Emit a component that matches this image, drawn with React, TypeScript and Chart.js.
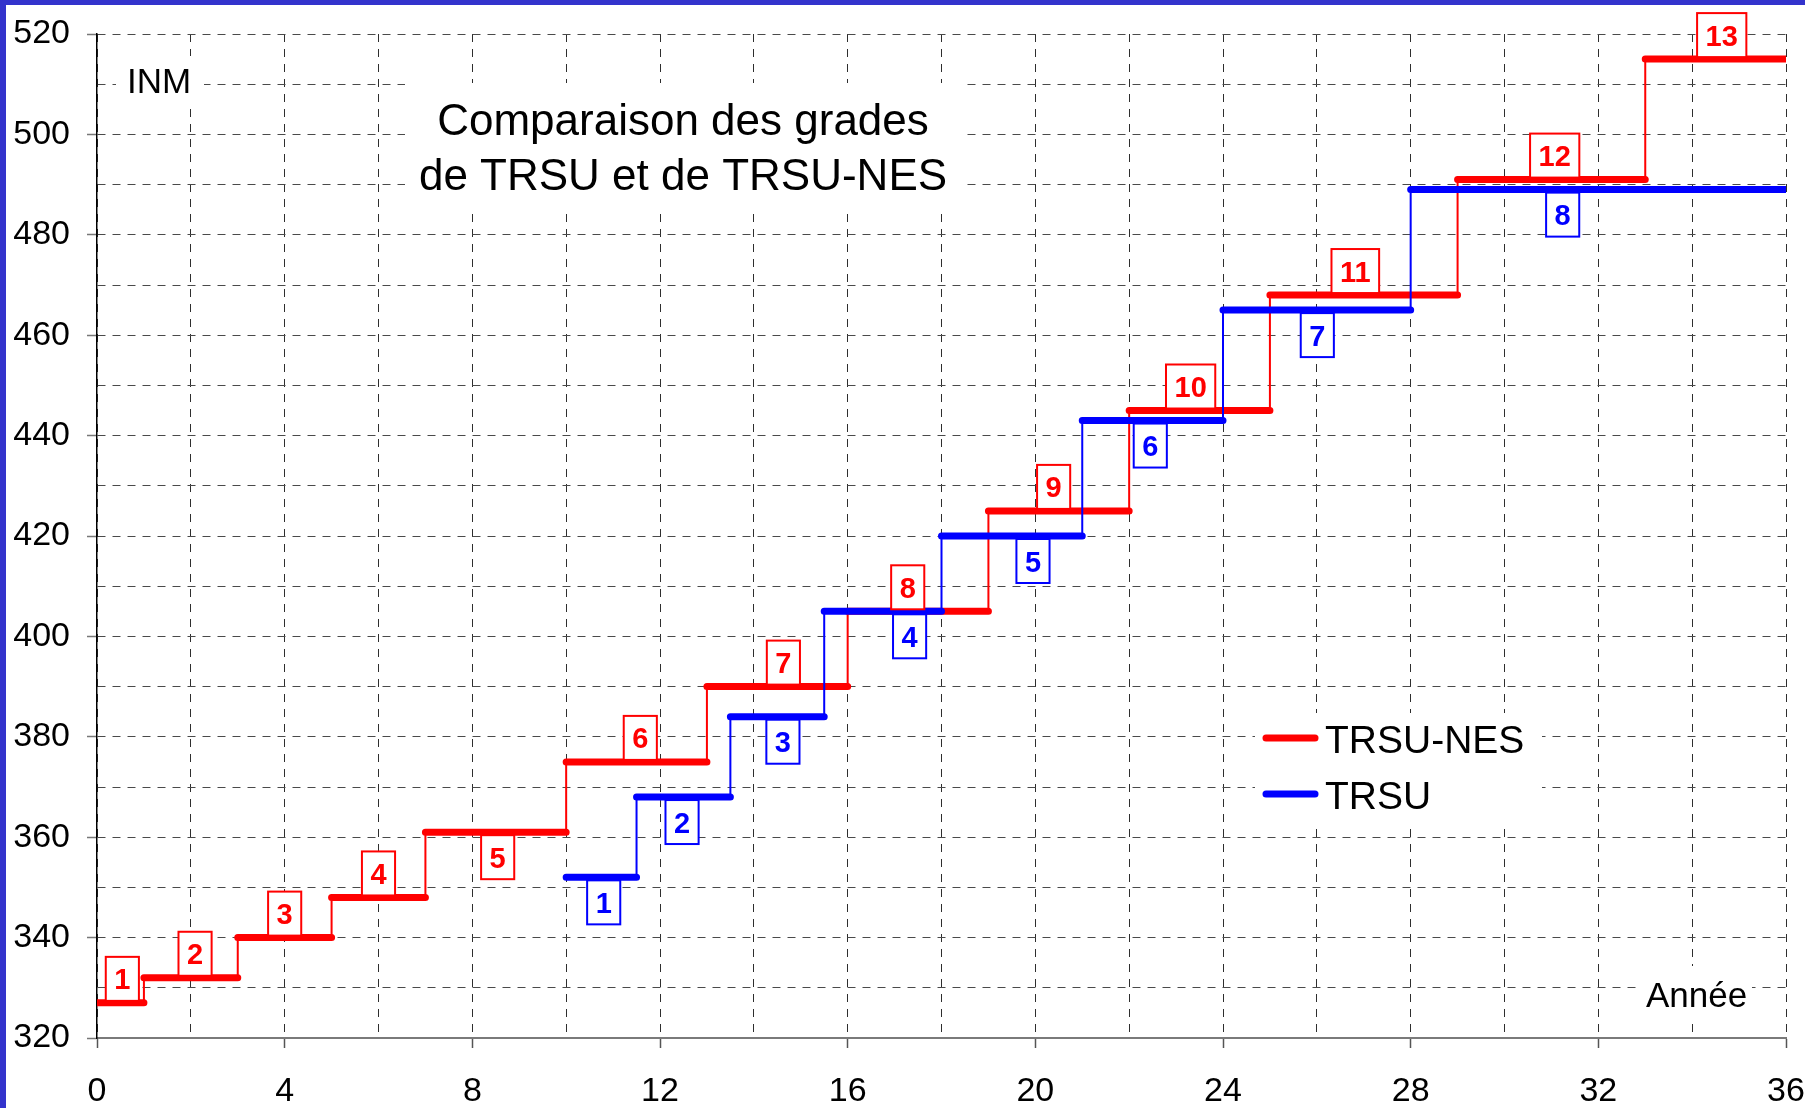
import React, { useEffect, useRef } from 'react';
import { Chart, registerables } from 'chart.js';

Chart.register(...registerables);

// ---------- data ----------
const nesGrades = ['1', '2', '3', '4', '5', '6', '7', '8', '9', '10', '11', '12', '13'];
const nesStart = [0, 1, 3, 5, 7, 10, 13, 16, 19, 22, 25, 29, 33];
const nesEnd = [1, 3, 5, 7, 10, 13, 16, 19, 22, 25, 29, 33, 36];
const nesINM = [327, 332, 340, 348, 361, 375, 390, 405, 425, 445, 468, 491, 515];
const nesLabelAt = [0.54, 2.09, 4.0, 6.0, 8.54, 11.58, 14.63, 17.28, 20.39, 23.31, 26.82, 31.07, 34.63];
const nesLabelBelow = ['5'];

const trsuGrades = ['1', '2', '3', '4', '5', '6', '7', '8'];
const trsuStart = [10, 11.5, 13.5, 15.5, 18, 21, 24, 28];
const trsuEnd = [11.5, 13.5, 15.5, 18, 21, 24, 28, 36];
const trsuINM = [352, 368, 384, 405, 420, 443, 465, 489];
const trsuLabelAt = [10.8, 12.47, 14.62, 17.32, 19.95, 22.45, 26.01, 31.24];

const seriesNames = ['TRSU-NES', 'TRSU'];
const titleLines = ['Comparaison des grades', 'de TRSU et de TRSU-NES'];
const yAxisTitle = 'INM';
const xAxisTitle = 'Année';

const xMin = 0, xMax = 36, xStep = 2, xLabelEvery = 4;
const yMin = 320, yMax = 520, yStep = 10, yLabelEvery = 20;

// ---------- styles ----------
const RED = '#ff0000';
const BLUE = '#0000ff';
const FRAME = '#3333cc';
const FONT = "'Liberation Sans', Arial, Helvetica, sans-serif";

function stepPoints(start: number[], end: number[], vals: number[]) {
  const pts: any[] = [];
  vals.forEach((v, i) => {
    pts.push({ x: start[i], y: v }, { x: end[i], y: v }, { x: end[i], y: null });
  });
  return pts;
}

function riserPoints(end: number[], vals: number[]) {
  const pts: any[] = [];
  for (let i = 0; i < vals.length - 1; i++) {
    pts.push({ x: end[i], y: vals[i] }, { x: end[i], y: vals[i + 1] }, { x: end[i], y: null });
  }
  return pts;
}

const decorPlugin = {
  id: 'decor',
  beforeDraw(chart: any) {
    const { ctx, width, height } = chart;
    ctx.save();
    ctx.fillStyle = '#ffffff';
    ctx.fillRect(0, 0, width, height);
    ctx.restore();
  },
  beforeDatasetsDraw(chart: any) {
    const { ctx } = chart;
    ctx.save();
    // white backgrounds of text boxes
    ctx.fillStyle = '#ffffff';
    ctx.fillRect(116, 56, 88, 52); // INM
    ctx.fillRect(405, 83, 556, 130); // title
    ctx.fillRect(1640, 966, 112, 54); // Année
    ctx.fillRect(1255, 713, 287, 112); // legend

    ctx.fillStyle = '#000000';
    ctx.textBaseline = 'alphabetic';
    ctx.textAlign = 'left';
    ctx.font = `35px ${FONT}`;
    ctx.fillText(yAxisTitle, 127, 93);
    ctx.fillText(xAxisTitle, 1646, 1007);

    ctx.textAlign = 'center';
    ctx.font = `44px ${FONT}`;
    ctx.fillText(titleLines[0], 683, 135);
    ctx.fillText(titleLines[1], 683, 190);

    // legend
    const ds = chart.data.datasets.filter((d: any) => d.label);
    ds.forEach((d: any, i: number) => {
      const y = 738 + i * 56;
      ctx.strokeStyle = d.borderColor;
      ctx.lineWidth = 7;
      ctx.lineCap = 'round';
      ctx.beginPath();
      ctx.moveTo(1266, y);
      ctx.lineTo(1315, y);
      ctx.stroke();
      ctx.fillStyle = '#000000';
      ctx.textAlign = 'left';
      ctx.font = `39px ${FONT}`;
      ctx.fillText(d.label, 1325, y + 15);
    });
    ctx.restore();
  },
  afterDatasetsDraw(chart: any) {
    const { ctx, scales } = chart;
    const xs = scales.x, ys = scales.y;
    const drawBox = (text: string, xv: number, yv: number, below: boolean, color: string) => {
      ctx.save();
      ctx.font = `bold 29px ${FONT}`;
      const tw = ctx.measureText(text).width;
      const w = tw + 17;
      const h = 44;
      const cx = xs.getPixelForValue(xv);
      const ly = ys.getPixelForValue(yv);
      const top = below ? ly + 3 : ly - 2 - h;
      ctx.fillStyle = '#ffffff';
      ctx.fillRect(cx - w / 2, top, w, h);
      ctx.strokeStyle = color;
      ctx.lineWidth = 2;
      ctx.strokeRect(cx - w / 2, top, w, h);
      ctx.fillStyle = color;
      ctx.textAlign = 'center';
      ctx.textBaseline = 'alphabetic';
      ctx.fillText(text, cx, top + h / 2 + 10.5);
      ctx.restore();
    };
    nesGrades.forEach((g, i) => drawBox(g, nesLabelAt[i], nesINM[i], nesLabelBelow.includes(g), RED));
    trsuGrades.forEach((g, i) => drawBox(g, trsuLabelAt[i], trsuINM[i], true, BLUE));
  },
  afterDraw(chart: any) {
    const { ctx, width, height } = chart;
    ctx.save();
    ctx.fillStyle = FRAME;
    ctx.fillRect(0, 0, 6, height);
    ctx.fillRect(0, 0, width, 5);
    ctx.restore();
  },
};

export default function App() {
  const ref = useRef<HTMLCanvasElement | null>(null);

  useEffect(() => {
    if (!ref.current) return;
    const chart = new Chart(ref.current, {
      type: 'line',
      data: {
        datasets: [
          {
            label: seriesNames[0],
            data: stepPoints(nesStart, nesEnd, nesINM),
            borderColor: RED,
            borderWidth: 7,
            borderCapStyle: 'round',
            pointRadius: 0,
            spanGaps: false,
            fill: false,
            order: 2,
          },
          {
            data: riserPoints(nesEnd, nesINM),
            borderColor: RED,
            borderWidth: 2,
            pointRadius: 0,
            spanGaps: false,
            fill: false,
            order: 3,
          },
          {
            label: seriesNames[1],
            data: stepPoints(trsuStart, trsuEnd, trsuINM),
            borderColor: BLUE,
            borderWidth: 7,
            borderCapStyle: 'round',
            pointRadius: 0,
            spanGaps: false,
            fill: false,
            order: 0,
          },
          {
            data: riserPoints(trsuEnd, trsuINM),
            borderColor: BLUE,
            borderWidth: 2,
            pointRadius: 0,
            spanGaps: false,
            fill: false,
            order: 1,
          },
        ] as any,
      },
      options: {
        responsive: false,
        animation: false,
        events: [],
        layout: { padding: { left: 0, right: 19, top: 34, bottom: 0 } },
        plugins: {
          legend: { display: false },
          tooltip: { enabled: false },
          title: { display: false },
        },
        scales: {
          x: {
            type: 'linear',
            min: xMin,
            max: xMax,
            ticks: {
              stepSize: xStep,
              autoSkip: false,
              maxRotation: 0,
              padding: 23,
              color: '#000000',
              font: { family: FONT, size: 34 },
              callback: (v: any) => (Number(v) % xLabelEvery === 0 ? String(v) : ''),
            },
            grid: {
              color: '#2e2e2e',
              lineWidth: 1,
              tickLength: 10,
              tickWidth: 1.5,
              tickColor: (c: any) =>
                c.tick && Number(c.tick.value) % xLabelEvery === 0 ? '#555555' : 'rgba(0,0,0,0)',
            },
            border: { color: '#7a7a7a', width: 2, dash: [8, 7] },
            afterFit: (s: any) => {
              s.height = 70;
              s.paddingLeft = 0;
              s.paddingRight = 0;
            },
          },
          y: {
            type: 'linear',
            min: yMin,
            max: yMax,
            ticks: {
              stepSize: yStep,
              autoSkip: false,
              padding: 17,
              color: '#000000',
              font: { family: FONT, size: 34 },
              callback: (v: any) => (Number(v) % yLabelEvery === 0 ? String(v) : ''),
            },
            grid: {
              color: '#4a4a4a',
              lineWidth: 1,
              tickLength: 10,
              tickWidth: 1.5,
              tickColor: (c: any) =>
                c.tick && Number(c.tick.value) % yLabelEvery === 0 ? '#777777' : 'rgba(0,0,0,0)',
            },
            border: { color: '#000000', width: 1.5, dash: [8, 7] },
            afterFit: (s: any) => {
              s.width = 97;
              s.paddingTop = 0;
              s.paddingBottom = 0;
            },
          },
        },
      } as any,
      plugins: [decorPlugin],
    });
    return () => chart.destroy();
  }, []);

  return (
    <div style={{ position: 'absolute', left: 0, top: 0, width: 1805, height: 1108, background: '#fff' }}>
      <canvas ref={ref} width={1805} height={1108} style={{ display: 'block', width: 1805, height: 1108 }} />
    </div>
  );
}
